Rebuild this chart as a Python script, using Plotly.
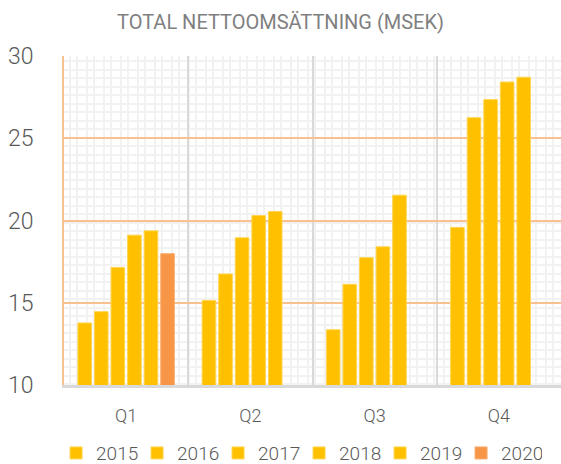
import plotly.graph_objects as go

quarters = ["Q1", "Q2", "Q3", "Q4"]
years = ["2015", "2016", "2017", "2018", "2019", "2020"]
v2015 = [13.77, 15.14, 13.36, 19.58]
v2016 = [14.46, 16.75, 16.12, 26.25]
v2017 = [17.15, 18.95, 17.74, 27.35]
v2018 = [19.11, 20.30, 18.40, 28.42]
v2019 = [19.37, 20.55, 21.54, 28.71]
v2020 = [17.98, None, None, None]
series = [v2015, v2016, v2017, v2018, v2019, v2020]
colors = ["#FFC000", "#FFC000", "#FFC000", "#FFC000", "#FFC000", "#F79646"]
lines = ["#FFD54F", "#FFD54F", "#FFD54F", "#FFD54F", "#FFD54F", "#F9AC6E"]

FONT = "Roboto"
TXT = "#595959"

fig = go.Figure()
# invisible trace so that the background (plaid) subplot is drawn
fig.add_trace(go.Scatter(x=[None], y=[None], xaxis="x", yaxis="y",
                         showlegend=False, hoverinfo="skip", mode="markers"))
for name, vals, c, lc in zip(years, series, colors, lines):
    fig.add_trace(go.Bar(
        x=quarters, y=vals, name=name, xaxis="x2", yaxis="y2",
        marker=dict(color=c, line=dict(color=lc, width=1)),
    ))

plaid = "#F2F2F2"
fig.update_layout(
    width=561, height=464,
    margin=dict(l=64, r=0, t=56, b=79, autoexpand=False),
    paper_bgcolor="white", plot_bgcolor="white",
    barmode="group", bargap=0.2, bargroupgap=0.18,
    title=dict(text="TOTAL NETTOOMSÄTTNING (MSEK)", x=0.5, xanchor="center",
               y=1 - 22 / 464, yanchor="middle",
               font=dict(family=FONT, size=20, color="#7F7F7F")),
    xaxis=dict(range=[0, 497], showticklabels=False, ticks="", showline=False,
               zeroline=False, showgrid=True, gridcolor=plaid, gridwidth=2,
               tick0=6, dtick=17, automargin=False, fixedrange=True,
               minor=dict(tick0=13, dtick=17, showgrid=True, gridcolor=plaid, gridwidth=2)),
    yaxis=dict(range=[0, 329.4], showticklabels=False, ticks="", showline=False,
               zeroline=False, showgrid=True, gridcolor=plaid, gridwidth=2,
               tick0=1.5, dtick=17, automargin=False, fixedrange=True,
               minor=dict(tick0=9.5, dtick=17, showgrid=True, gridcolor=plaid, gridwidth=2)),
    xaxis2=dict(overlaying="x", anchor="y2", type="category", tickson="boundaries",
                showgrid=True, gridcolor="#D9D9D9", gridwidth=2,
                showline=True, linecolor="#D9D9D9", linewidth=3,
                ticks="", ticklabelstandoff=12, automargin=False,
                tickfont=dict(family=FONT, size=18, color=TXT, weight=300)),
    yaxis2=dict(overlaying="y", anchor="x2", range=[10, 30], dtick=5, tick0=10,
                showgrid=True, gridcolor="#FAC090", gridwidth=2,
                showline=True, linecolor="#FAC090", linewidth=2,
                zeroline=False, ticks="", ticklabelstandoff=24, automargin=False,
                tickfont=dict(family=FONT, size=23, color=TXT, weight=300)),
    legend=dict(orientation="h", x=-0.016, xanchor="left", y=-0.207, yanchor="middle",
                font=dict(family=FONT, size=19, color=TXT, weight=300),
                entrywidth=36, entrywidthmode="pixels", itemwidth=30,
                itemclick=False, traceorder="normal"),
)

fig.write_html("out.html", post_script="document.body.style.margin='0';",
               config={"displayModeBar": False})
